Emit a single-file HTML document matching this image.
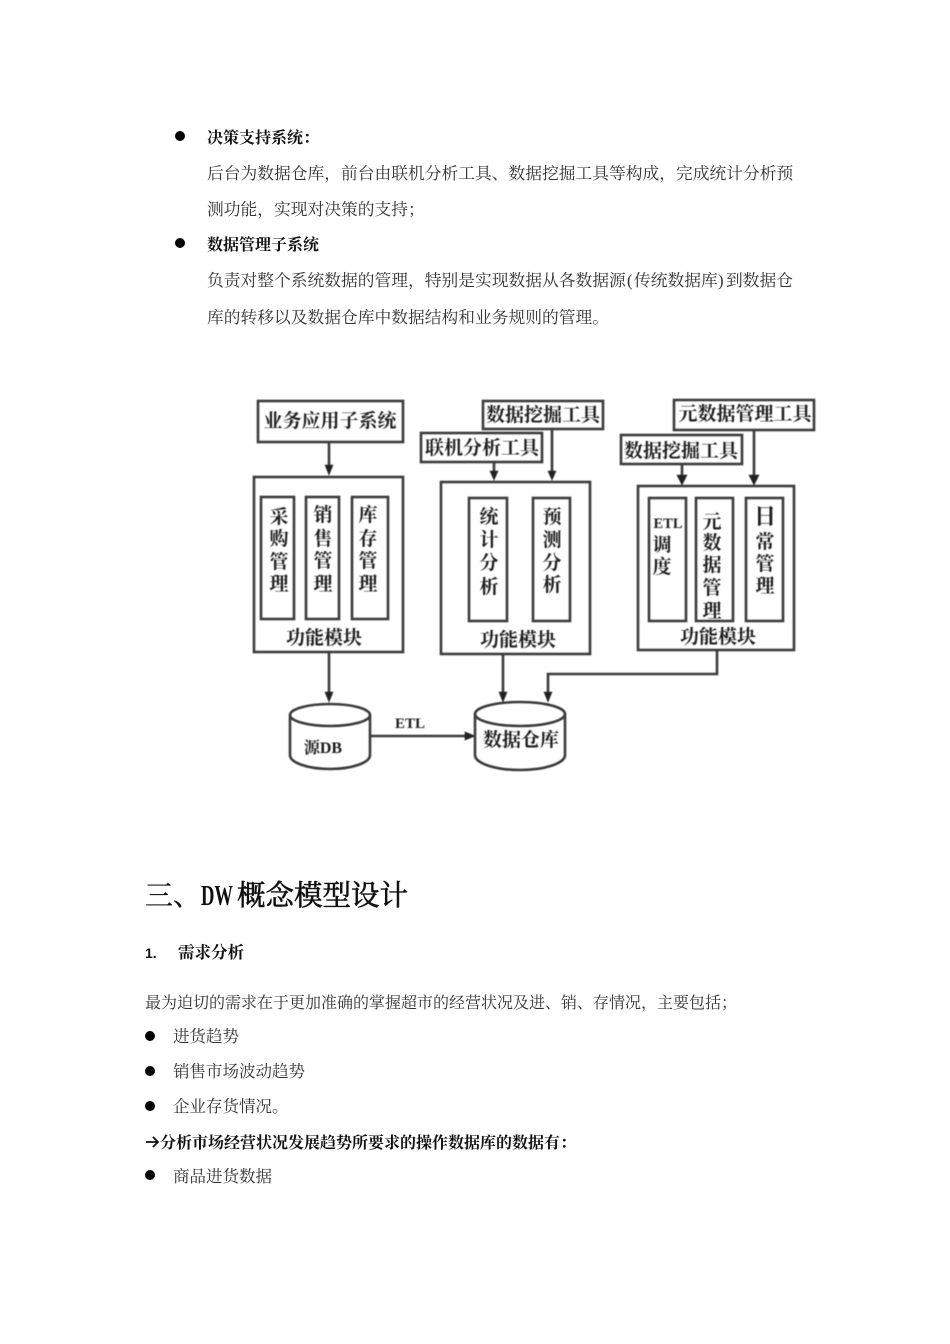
<!DOCTYPE html>
<html lang="zh">
<head>
<meta charset="utf-8">
<style>
html,body{margin:0;padding:0;background:#fff;width:950px;height:1344px;overflow:hidden}
svg{display:block}
text{font-family:"Liberation Serif","Noto Serif CJK SC",serif;fill:#222}
.b{font-size:16.75px;fill:#333}
.m{font-size:16.5px;fill:#333}
.s{font-size:16px;fill:#333}
.bd{font-size:16px;font-weight:700;fill:#111}
.d text{font-weight:700;font-size:19px;fill:#1a1a1a;text-anchor:middle}
.d rect,.d path.l,.d ellipse{fill:none;stroke:#3a3a3a;stroke-width:2.6}
.d path.a{fill:#222;stroke:#222;stroke-width:.6}
</style>
</head>
<body>
<svg width="950" height="1344" viewBox="0 0 950 1344" xmlns="http://www.w3.org/2000/svg">
<defs><filter id="soft" filterUnits="userSpaceOnUse" x="0" y="0" width="950" height="1344"><feGaussianBlur stdDeviation="0.5"/></filter></defs>
<circle cx="180" cy="136" r="5" fill="#000"/>
<text x="207" y="143" class="bd">决策支持系统：</text>
<text x="207" y="179" class="b">后台为数据仓库，前台由联机分析工具、数据挖掘工具等构成，完成统计分析预</text>
<text x="207" y="215" class="b">测功能，实现对决策的支持；</text>
<circle cx="180" cy="243" r="5" fill="#000"/>
<text x="207" y="250" class="bd">数据管理子系统</text>
<text x="207" y="286" class="b">负责对整个系统数据的管理，特别是实现数据从各数据源<tspan x="627">(</tspan><tspan x="634">传统数据库</tspan><tspan x="718">)</tspan><tspan x="726">到数据仓</tspan></text>
<text x="207" y="323" class="b">库的转移以及数据仓库中数据结构和业务规则的管理。</text>

<g class="d" filter="url(#soft)">
<rect x="258" y="401" width="145" height="41"/>
<text x="330" y="427">业务应用子系统</text>
<rect x="254" y="477" width="149" height="175"/>
<rect x="261" y="497" width="33" height="122"/>
<rect x="306" y="497" width="33" height="122"/>
<rect x="352" y="497" width="36" height="122"/>
<text x="279" y="523">采</text><text x="279" y="545">购</text><text x="279" y="568">管</text><text x="279" y="590">理</text>
<text x="323" y="521">销</text><text x="323" y="545">售</text><text x="323" y="567">管</text><text x="323" y="590">理</text>
<text x="368" y="521">库</text><text x="368" y="545">存</text><text x="368" y="567">管</text><text x="368" y="590">理</text>
<text x="324" y="644">功能模块</text>
<path class="l" d="M329 442V466"/><path class="a" d="M325 465h8l-4 10z"/>
<path class="l" d="M329 652V692"/><path class="a" d="M325 692h8l-4 10z"/>
<path class="l" d="M290 715V755A40 14 0 0 0 370 755V715"/>
<ellipse cx="330" cy="715" rx="40" ry="11"/>
<text x="323" y="753" style="font-size:16px">源DB</text>
<text x="410" y="728" style="font-size:15px">ETL</text>
<path class="l" d="M370 736H466"/><path class="a" d="M465 732v8l10-4z"/>
<path class="l" d="M475 714V755A45 15 0 0 0 565 755V714"/>
<ellipse cx="520" cy="714" rx="45" ry="12"/>
<text x="521" y="746">数据仓库</text>

<rect x="483" y="401" width="120" height="28"/>
<text x="543" y="421">数据挖掘工具</text>
<rect x="421" y="433" width="121" height="29"/>
<text x="482" y="454">联机分析工具</text>
<path class="l" d="M494 462V472"/><path class="a" d="M490 471h8l-4 9z"/>
<path class="l" d="M552 429V472"/><path class="a" d="M548 471h8l-4 9z"/>
<rect x="441" y="482" width="149" height="172"/>
<rect x="469" y="498" width="38" height="123"/>
<rect x="533" y="498" width="37" height="123"/>
<text x="489" y="523">统</text><text x="489" y="546">计</text><text x="489" y="569">分</text><text x="489" y="593">析</text>
<text x="552" y="523">预</text><text x="552" y="546">测</text><text x="552" y="569">分</text><text x="552" y="591">析</text>
<text x="518" y="646">功能模块</text>
<path class="l" d="M503 654V692"/><path class="a" d="M499 692h8l-4 10z"/>
<path class="l" d="M717 650V674H548V692"/><path class="a" d="M544 692h8l-4 10z"/>

<rect x="674" y="400" width="140" height="30"/>
<text x="745" y="420">元数据管理工具</text>
<rect x="621" y="435" width="121" height="29"/>
<text x="681" y="457">数据挖掘工具</text>
<path class="l" d="M682 464V476"/><path class="a" d="M677 475h10l-5 10z"/>
<path class="l" d="M754 430V476"/><path class="a" d="M749 475h10l-5 10z"/>
<rect x="638" y="486" width="156" height="164"/>
<rect x="649" y="498" width="37" height="123"/>
<rect x="696" y="498" width="37" height="123"/>
<rect x="746" y="498" width="37" height="123"/>
<text x="668" y="528" style="font-size:14.5px">ETL</text>
<text x="662" y="551">调</text><text x="662" y="573">度</text>
<text x="712" y="528">元</text><text x="712" y="549">数</text><text x="712" y="571">据</text><text x="712" y="594">管</text><text x="712" y="617">理</text>
<text x="765" y="524" style="font-size:22px">日</text><text x="765" y="548">常</text><text x="765" y="570">管</text><text x="765" y="592">理</text>
<text x="718" y="643">功能模块</text>
</g>

<text x="145" y="905" style="font-size:28px;fill:#111;stroke:#111;stroke-width:.3">三、</text>
<text x="201" y="905" style="font-size:28px;fill:#111;font-weight:700" textLength="32" lengthAdjust="spacingAndGlyphs">DW</text>
<text x="237" y="905" style="font-size:28.5px;fill:#111;stroke:#111;stroke-width:.6">概念模型设计</text>
<text x="145" y="958" style="font-family:'Liberation Sans',sans-serif;font-size:14px;font-weight:700;fill:#111">1.</text>
<text x="178" y="958" style="font-size:16.5px;font-weight:700;fill:#111">需求分析</text>
<text x="145" y="1008" class="s">最为迫切的需求在于更加准确的掌握超市的经营状况及进、销、存情况，主要包括；</text>
<circle cx="150" cy="1036" r="5" fill="#000"/>
<text x="173" y="1042" class="m">进货趋势</text>
<circle cx="150" cy="1071" r="5" fill="#000"/>
<text x="173" y="1077" class="m">销售市场波动趋势</text>
<circle cx="150" cy="1106" r="5" fill="#000"/>
<text x="173" y="1112" class="m">企业存货情况。</text>
<path d="M146 1142H157M153 1137L158 1142L153 1147" fill="none" stroke="#111" stroke-width="1.8"/>
<text x="160" y="1148" class="bd">分析市场经营状况发展趋势所要求的操作数据库的数据有：</text>
<circle cx="150" cy="1175" r="5" fill="#000"/>
<text x="173" y="1182" class="m">商品进货数据</text>
</svg>
</body>
</html>
